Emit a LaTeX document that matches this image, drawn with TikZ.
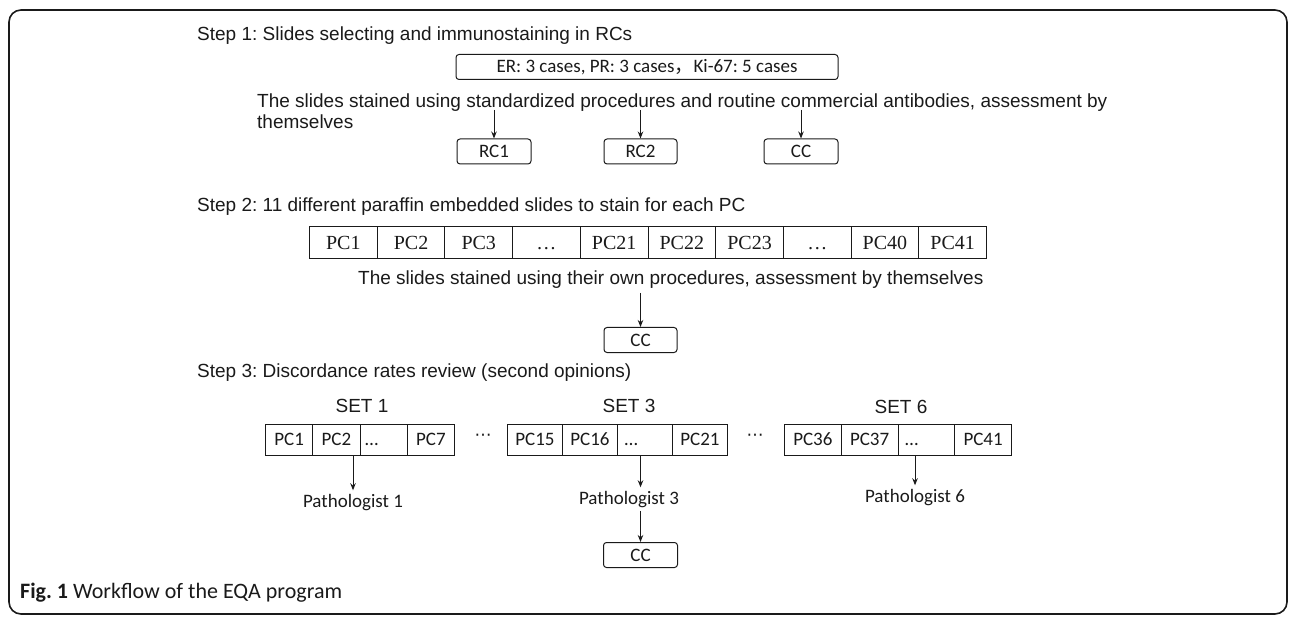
\documentclass[tikz,border=0pt]{standalone}
\usepackage{fontspec}
\setmainfont{Liberation Sans}
\newfontfamily\calf{Carlito}
\newfontfamily\timesf{Liberation Serif}
\newfontfamily\cjk{Noto Sans CJK SC}
\newfontfamily\dejavu{DejaVu Sans}
\usetikzlibrary{arrows.meta}
\definecolor{ink}{HTML}{1A1A1A}
\frenchspacing
\begin{document}
\begin{tikzpicture}[x=1pt,y=-1pt,
  every node/.style={text=ink},
  arialtxt/.style={font=\fontsize{19}{21}\selectfont},
  calftxt/.style={font=\calf\fontsize{19}{22}\selectfont},
  arr/.style={draw=ink,line width=1pt,-{Stealth[length=7pt,width=5.5pt]}},
  rbox/.style={draw=ink,line width=1pt,rounded corners=3pt,minimum height=25pt,inner sep=0pt,
    font=\calf\fontsize{19}{22}\selectfont,text height=14pt,text depth=2pt},
  pcell/.style={draw=ink,line width=1pt,minimum width=67.7pt,minimum height=32pt,inner sep=0pt,
    font=\timesf\fontsize{20}{22}\selectfont,text height=14pt,text depth=1pt},
  scell/.style={draw=ink,line width=1pt,minimum height=31pt,inner sep=0pt,
    font=\calf\fontsize{19}{22}\selectfont,text height=14pt,text depth=2pt},
  txt/.style={inner sep=0pt}]
\useasboundingbox (0,0) rectangle (1295,617);
\draw[draw=ink,line width=1.6pt,rounded corners=12pt] (9,10) rectangle (1287,614);

% ---------- Step 1 ----------
\node[txt,arialtxt,anchor=base west] (s1) at (197,41) {Step 1: Slides selecting and immunostaining in RCs};
\node[rbox,minimum width=382pt] (er) at (647,67) {ER: 3 cases, PR: 3 cases{\cjk ，}Ki-67: 5 cases};
\node[txt,arialtxt,anchor=north west,align=left] (d1) at (257,93.2)
  {The slides stained using standardized procedures and routine commercial antibodies, assessment by\\themselves};
\node[rbox,minimum width=74pt] (rc1) at (494,151.5) {RC1};
\node[rbox,minimum width=73pt] (rc2) at (640.5,151.5) {RC2};
\node[rbox,minimum width=74pt] (cc1) at (801,151.5) {CC};
\coordinate (t1) at (0,110);
\draw[arr] (rc1.north |- t1) -- (rc1.north);
\draw[arr] (rc2.north |- t1) -- (rc2.north);
\draw[arr] (cc1.north |- t1) -- (cc1.north);

% ---------- Step 2 ----------
\node[txt,arialtxt,anchor=base west] (s2) at (197,212) {Step 2: 11 different paraffin embedded slides to stain for each PC};
\foreach \t [count=\i] in {PC1,PC2,PC3,…,PC21,PC22,PC23,…,PC40,PC41}
  \node[pcell,anchor=west] (p\i) at ({309+67.7*(\i-1)},243) {\t};
\node[txt,arialtxt,anchor=base west] (d2) at (358,285) {The slides stained using their own procedures, assessment by themselves};
\node[rbox,minimum width=73pt] (cc2) at (640.5,340) {CC};
\coordinate (t2) at (0,293);
\draw[arr] (cc2.north |- t2) -- (cc2.north);

% ---------- Step 3 ----------
\node[txt,arialtxt,anchor=base west] (s3) at (197,377) {Step 3: Discordance rates review (second opinions)};

\node[txt,arialtxt,anchor=base] (set1) at (362,412) {SET 1};
\node[txt,arialtxt,anchor=base] (set3) at (629,412) {SET 3};
\node[txt,arialtxt,anchor=base] (set6) at (901,413) {SET 6};

% SET 1 table
\node[scell,anchor=west,minimum width=47.25pt] (a1) at (265,439.5) {PC1};
\node[scell,anchor=west,minimum width=47.25pt] (a2) at (312.25,439.5) {PC2};
\node[scell,anchor=west,minimum width=47.25pt,text width=39.25pt,align=left] (a3) at (359.5,439.5) {\hspace*{1pt}…};
\node[scell,anchor=west,minimum width=47.25pt] (a4) at (406.75,439.5) {PC7};
% SET 3 table
\node[scell,anchor=west,minimum width=55pt] (b1) at (507,439.5) {PC15};
\node[scell,anchor=west,minimum width=55pt] (b2) at (562,439.5) {PC16};
\node[scell,anchor=west,minimum width=55pt,text width=45pt,align=left] (b3) at (617,439.5) {\hspace*{2pt}…};
\node[scell,anchor=west,minimum width=55pt] (b4) at (672,439.5) {PC21};
% SET 6 table
\node[scell,anchor=west,minimum width=56.75pt] (c1) at (784,439.5) {PC36};
\node[scell,anchor=west,minimum width=56.75pt] (c2) at (840.75,439.5) {PC37};
\node[scell,anchor=west,minimum width=56.75pt,text width=46.75pt,align=left] (c3) at (897.5,439.5) {\hspace*{2pt}…};
\node[scell,anchor=west,minimum width=56.75pt] (c4) at (954.25,439.5) {PC41};

\node[inner sep=0pt,font=\dejavu\fontsize{17}{20}\selectfont] (dots1) at (483,437) {⋯};
\node[inner sep=0pt,font=\dejavu\fontsize{17}{20}\selectfont] (dots2) at (755,437) {⋯};

\node[calftxt,anchor=base] (pa1) at (353,507) {Pathologist 1};
\node[calftxt,anchor=base] (pa3) at (629,504) {Pathologist 3};
\node[calftxt,anchor=base] (pa6) at (915,502) {Pathologist 6};
\node[rbox,minimum width=74pt] (cc3) at (640.5,555) {CC};
\draw[arr] (pa1.north |- a1.south) -- (pa1.north);
\draw[arr] (cc3.north |- b1.south) -- (cc3.north |- pa3.north);
\draw[arr] (pa6.north |- c1.south) -- (pa6.north);
\draw[arr] (cc3.north |- pa3.south) -- (cc3.north);

% ---------- Caption ----------
\node[txt,anchor=base west,font=\calf\fontsize{22}{24}\selectfont] (cap) at (20,598)
  {\textbf{Fig. 1} Workflow of the EQA program};
\end{tikzpicture}
\end{document}
